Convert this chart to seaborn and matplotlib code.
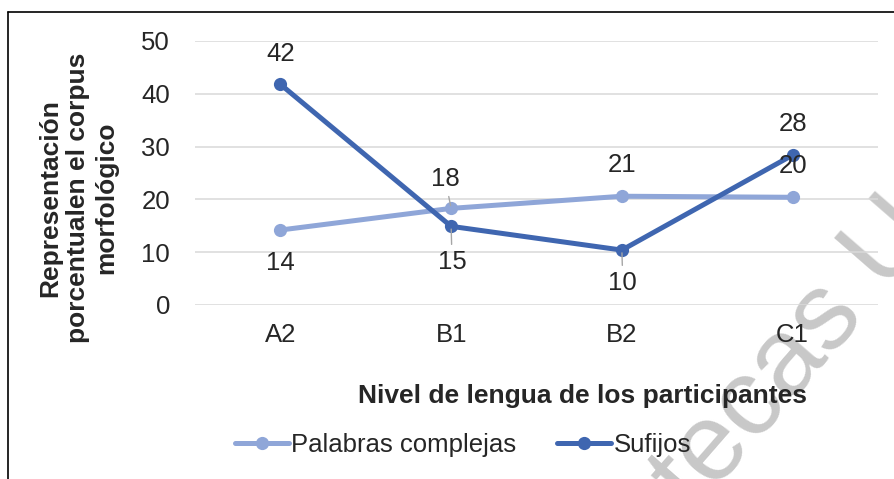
import pandas as pd
import numpy as np
import matplotlib.pyplot as plt
from matplotlib.lines import Line2D
import seaborn as sns

# ==============================
# Data
# ==============================
niveles = ["A2", "B1", "B2", "C1"]
palabras_complejas = [14.2, 18.3, 20.6, 20.4]
sufijos = [41.8, 14.9, 10.4, 28.4]
etiquetas_palabras = ["14", "18", "21", "20"]
etiquetas_sufijos = ["42", "15", "10", "28"]
series = ["Palabras complejas", "Sufijos"]

df = pd.DataFrame({
    "nivel": niveles * 2,
    "valor": palabras_complejas + sufijos,
    "serie": [series[0]] * 4 + [series[1]] * 4,
})

# ==============================
# Style
# ==============================
sns.set_style("white")
plt.rcParams["font.family"] = ["Liberation Sans", "DejaVu Sans"]

col_light = "#8FA6D8"
col_dark = "#3F66B0"
fs = 18.5

fig = plt.figure(figsize=(8.94, 4.79), dpi=100)
ax = fig.add_axes([195 / 894, 1 - 305 / 479, 683 / 894, 264 / 479])
ax.set_facecolor("none")

sns.lineplot(data=df, x="nivel", y="valor", hue="serie", style="serie",
             palette=[col_light, col_dark], markers=["o", "o"], dashes=False,
             linewidth=3.6, markersize=9.5, markeredgewidth=0, ax=ax,
             legend=False, sort=False, zorder=3)

ax.set_xlim(-0.5, 3.5)
ax.set_ylim(0, 50)
ax.set_yticks(np.arange(0, 51, 10))
ax.grid(axis="y", color="#D9D9D9", linewidth=1.1)
ax.grid(axis="x", visible=False)
for s in ax.spines.values():
    s.set_visible(False)
ax.tick_params(axis="y", length=0, pad=18, labelsize=fs)
ax.tick_params(axis="x", length=0, pad=13, labelsize=fs)
ax.set_xlabel("")
ax.set_ylabel("")

# ==============================
# Data labels
# ==============================
leader = dict(arrowstyle="-", color="#A6A6A6", lw=1, shrinkB=2)
off_light = [(0, -24), (-4.3, 21.5), (0, 22.5), (0, 22.5)]
off_dark = [(0, 22), (0.7, -26), (0.7, -24), (0, 22.5)]
lead_light = [None, leader, None, None]
lead_dark = [None, leader, leader, None]
for i in range(4):
    ax.annotate(etiquetas_palabras[i], (i, palabras_complejas[i]), xytext=off_light[i],
                textcoords="offset points", ha="center", va="center", fontsize=fs,
                arrowprops=lead_light[i], zorder=4)
    ax.annotate(etiquetas_sufijos[i], (i, sufijos[i]), xytext=off_dark[i],
                textcoords="offset points", ha="center", va="center", fontsize=fs,
                arrowprops=lead_dark[i], zorder=4)

# ==============================
# Titles and legend
# ==============================
fig.text(583 / 894, 1 - 396 / 479, "Nivel de lengua de los participantes",
         ha="center", va="center", fontsize=19, fontweight="bold")
fig.text(78 / 894, 1 - 198 / 479, "Representación\nporcentualen el corpus\nmorfológico",
         ha="center", va="center", rotation=90, fontsize=19, fontweight="bold",
         multialignment="center", linespacing=1.2)

handles = [Line2D([], [], color=c, lw=3.6, marker="o", markersize=9.5, markeredgewidth=0)
           for c in (col_light, col_dark)]
fig.legend(handles, series, loc="center", bbox_to_anchor=(463 / 894, 1 - 445 / 479),
           ncol=2, frameon=False, fontsize=fs, handlelength=2.1, handletextpad=0.1,
           columnspacing=1.6, borderaxespad=0, borderpad=0)

# ==============================
# Watermark and border
# ==============================
fig.text(0.889, 0.257, "tecas U", rotation=49, rotation_mode="anchor",
         ha="center", va="center", fontsize=79, color="#C8C8C8", zorder=-1)

fig.add_artist(Line2D([8 / 894, 8 / 894], [0, 1 - 12 / 479], color="black", lw=1.2))
fig.add_artist(Line2D([8 / 894, 1], [1 - 12 / 479, 1 - 12 / 479], color="black", lw=1.2))

plt.savefig("out.png", dpi=100)
plt.close()
